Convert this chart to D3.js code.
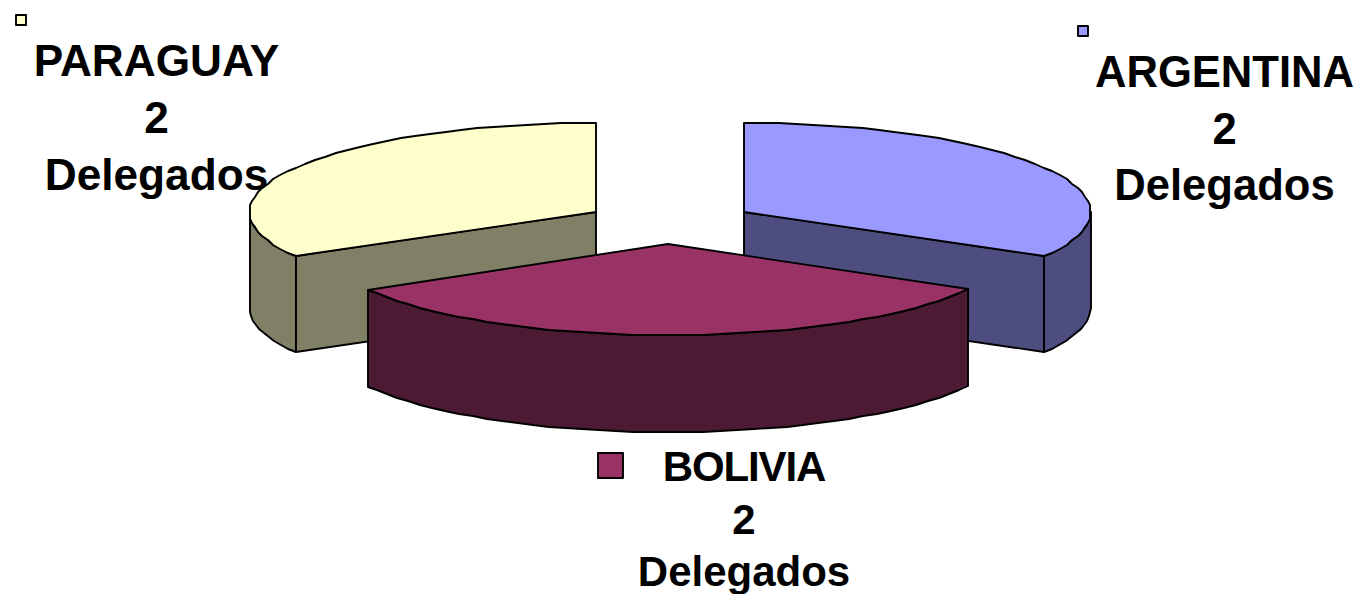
<!DOCTYPE html>
<html><head><meta charset="utf-8">
<script src="https://cdn.jsdelivr.net/npm/d3@7"></script>
<style>html,body{margin:0;padding:0;background:#fff;overflow:hidden}svg{display:block}text{font-family:"Liberation Sans",Arial,sans-serif;font-weight:700;fill:#000;text-anchor:middle}</style>
</head><body><svg id="c" width="1361" height="594"></svg>
<script>
const categories=["PARAGUAY","ARGENTINA","BOLIVIA"];
const values=[2,2,2];
const unitLabel="Delegados";
const topColors=["#FFFFCC","#9999FF","#993366"];
const wallColors=["#808066","#4D4D80","#4D1A33"];
const centers=[[596,212],[744,212],[668,244]];
const radiiY=[89,89,91];
const depths=[96,96,97];
const labelPos=[[156.5,76],[1224.5,87],[744,481]];
const lineGaps=[57,56.5,52.5];
const fontSizes=[44.2,43.6,42];
const nameSpacing=[0,0,-1.1];
const keyPos=[[16,15],[1078,26],[598,453]];
const keySize=[10,10,25];
const rx=346.5;
const svg=d3.select("#c");
const arcs=d3.pie().sort(null).startAngle(-2*Math.PI/3).endAngle(4*Math.PI/3).value(d=>d)(values);
const st={"stroke":"#000","stroke-width":1.9,"stroke-linejoin":"round"};
const apply=s=>{for(const k in st)s.attr(k,st[k]);return s;};
const line=d3.line();
arcs.forEach((arc,i)=>{
  const [cx,cy]=centers[i];const ry=radiiY[i];const depth=depths[i];
  const a0=arc.startAngle,a1=arc.endAngle;
  const x=d3.scaleLinear().domain([-1,1]).range([-rx,rx]);
  const y=d3.scaleLinear().domain([-1,1]).range([-ry,ry]);
  const px=a=>[Math.round(x(Math.sin(a))),Math.round(y(-Math.cos(a)))];
  const rimPts=(b0,b1)=>{const n=Math.max(2,Math.ceil((b1-b0)/0.05));return d3.range(n+1).map(k=>px(b0+(b1-b0)*k/n));};
  const wall=r=>line(r.concat(r.slice().reverse().map(p=>[p[0],p[1]+depth])))+"Z";
  const g=svg.append("g").attr("transform",`translate(${cx},${cy})`);
  const rim=rimPts(a0,a1);
  if(i===0){
    apply(g.append("path").attr("fill",wallColors[i]).attr("d",wall(rimPts(a0,-Math.PI/2))));
    const e=px(a0);
    apply(g.append("path").attr("fill",wallColors[i]).attr("d",line([[0,0],e,[e[0],e[1]+depth],[0,depth]])+"Z"));
  } else if(i===1){
    const e=px(a1);
    apply(g.append("path").attr("fill",wallColors[i]).attr("d",line([[0,0],e,[e[0],e[1]+depth],[0,depth]])+"Z"));
    apply(g.append("path").attr("fill",wallColors[i]).attr("d",wall(rimPts(Math.PI/2,a1))));
  } else {
    apply(g.append("path").attr("fill",wallColors[i]).attr("d",wall(rim)));
  }
  apply(g.append("path").attr("fill",topColors[i]).attr("d",line([[0,0]].concat(rim))+"Z"));
  apply(svg.append("rect").attr("x",keyPos[i][0]).attr("y",keyPos[i][1]).attr("width",keySize[i]).attr("height",keySize[i]).attr("fill",topColors[i]));
  const t=svg.append("text").style("font-size",fontSizes[i]+"px");
  [categories[i],values[i],unitLabel].forEach((s,j)=>t.append("tspan").attr("x",labelPos[i][0]).attr("y",labelPos[i][1]+j*lineGaps[i]).style("letter-spacing",j===0?nameSpacing[i]+"px":"0px").text(s));
});
</script></body></html>
